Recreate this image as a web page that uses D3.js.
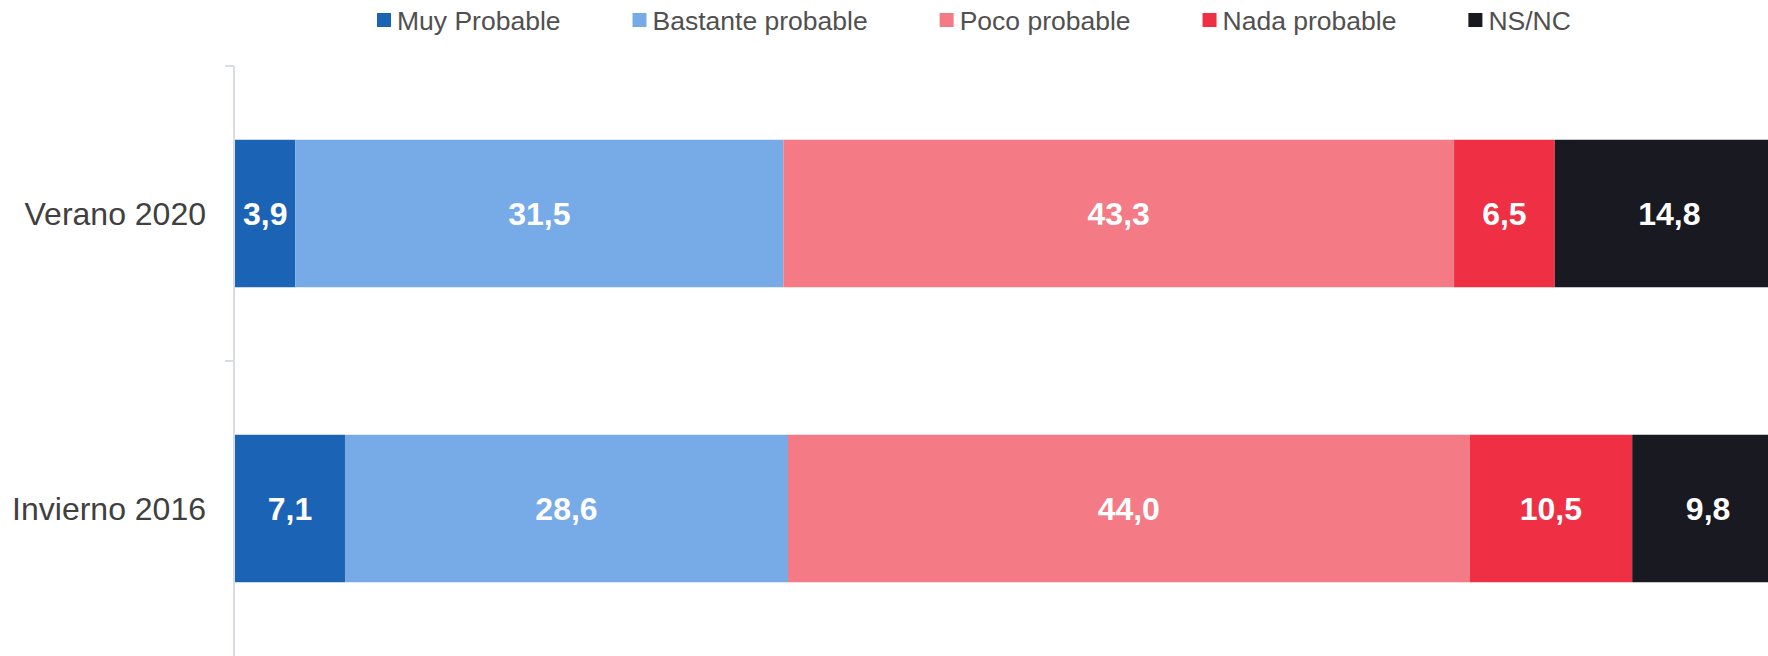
<!DOCTYPE html>
<html>
<head>
<meta charset="utf-8">
<script src="https://cdn.jsdelivr.net/npm/d3@7"></script>
<style>
  html, body { margin: 0; padding: 0; background: #ffffff; }
  svg { display: block; font-family: "Liberation Sans", Arial, sans-serif; }
</style>
</head>
<body>
<svg id="chart" width="1768" height="656"></svg>
<script>
// ---- data ----
const categories = ["Verano 2020", "Invierno 2016"];
const seriesNames = ["Muy Probable", "Bastante probable", "Poco probable", "Nada probable", "NS/NC"];
const muyProbable      = [3.9, 7.1];
const bastanteProbable = [31.5, 28.6];
const pocoProbable     = [43.3, 44.0];
const nadaProbable     = [6.5, 10.5];
const nsnc             = [14.8, 9.8];
const seriesColors = ["#1b63b5", "#76abe8", "#f47b85", "#ef3044", "#191921"];

const seriesValues = [muyProbable, bastanteProbable, pocoProbable, nadaProbable, nsnc];
const table = categories.map((c, i) => {
  const row = { category: c };
  seriesNames.forEach((s, j) => row[s] = seriesValues[j][i]);
  return row;
});

const W = 1768, H = 656;
const svg = d3.select("#chart");

const x = d3.scaleLinear().domain([0, 100]).range([235, 1784]);
const y = d3.scaleBand().domain(categories).range([66, 656])
  .paddingInner(0.5).paddingOuter(0.25);

const stacked = d3.stack().keys(seriesNames)(table);

// bars
const layers = svg.append("g").selectAll("g")
  .data(stacked).join("g")
  .attr("fill", (d, i) => seriesColors[i]);

layers.selectAll("rect")
  .data(d => d.map(v => ({ v, key: d.key })))
  .join("rect")
  .attr("x", d => x(d.v[0]))
  .attr("y", d => y(d.v.data.category))
  .attr("width", d => x(d.v[1]) - x(d.v[0]))
  .attr("height", y.bandwidth());

// data labels
layers.selectAll("text")
  .data(d => d.map(v => ({ v, key: d.key })))
  .join("text")
  .attr("x", d => (x(d.v[0]) + x(d.v[1])) / 2)
  .attr("y", d => y(d.v.data.category) + y.bandwidth() / 2)
  .attr("dy", "0.36em")
  .attr("text-anchor", "middle")
  .attr("fill", "#ffffff")
  .attr("font-weight", "bold")
  .attr("font-size", 32)
  .text(d => d3.format(".1f")(d.v[1] - d.v[0]).replace(".", ","));

// axis (category axis on the left, ticks at band boundaries)
const axisX = 234;
const axisG = svg.append("g");
axisG.append("line")
  .attr("x1", axisX).attr("x2", axisX)
  .attr("y1", y.range()[0]).attr("y2", H)
  .attr("stroke", "#d9dce6").attr("stroke-width", 2);
const step = y.step();
const boundaries = categories.map((c, i) => y.range()[0] + i * step);
axisG.selectAll("line.tick")
  .data(boundaries).join("line")
  .attr("class", "tick")
  .attr("x1", axisX - 9).attr("x2", axisX)
  .attr("y1", d => d).attr("y2", d => d)
  .attr("stroke", "#d9dce6").attr("stroke-width", 2);

axisG.selectAll("text.cat")
  .data(categories).join("text")
  .attr("class", "cat")
  .attr("x", 206)
  .attr("y", d => y(d) + y.bandwidth() / 2)
  .attr("dy", "0.36em")
  .attr("text-anchor", "end")
  .attr("font-size", 32)
  .attr("fill", "#404040")
  .text(d => d);

// legend
const legend = svg.append("g");
let lx = 377;
seriesNames.forEach((s, i) => {
  const g = legend.append("g");
  g.append("rect")
    .attr("x", lx).attr("y", 13)
    .attr("width", 14).attr("height", 14)
    .attr("fill", seriesColors[i]);
  const t = g.append("text")
    .attr("x", lx + 20).attr("y", 29.5)
    .attr("font-size", 26.5)
    .attr("fill", "#505050")
    .text(s);
  const w = t.node().getComputedTextLength();
  lx = lx + 20 + w + 72;
});
</script>
</body>
</html>
